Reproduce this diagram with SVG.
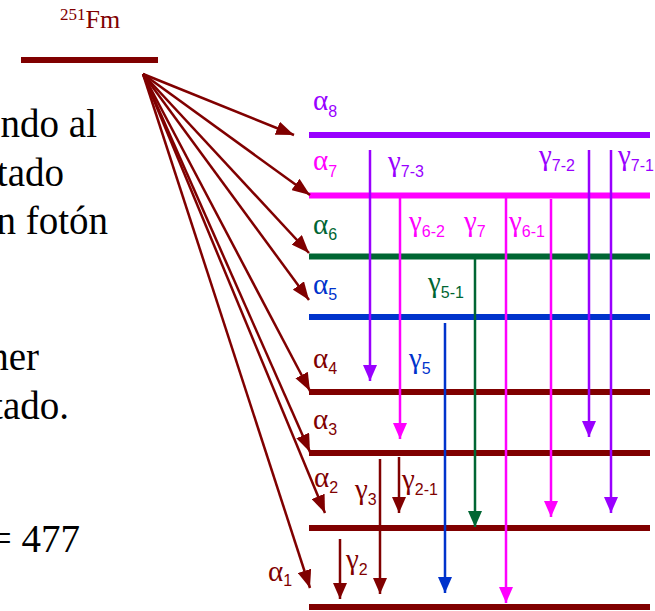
<svg xmlns="http://www.w3.org/2000/svg" width="655" height="611" viewBox="0 0 655 611">
<style>
.body{font-family:"Liberation Serif",serif;font-size:39px;fill:#000}
.lbl{font-family:"Liberation Serif",serif;font-size:29px}
.sub{font-family:"Liberation Sans",sans-serif;font-size:16px}
.lvl{stroke-width:6;fill:none}
.ar{stroke-width:2.5;fill:none}
.red{fill:#800000}.pur{fill:#9900FF}.mag{fill:#FF00FF}.grn{fill:#006633}.blu{fill:#0033CC}
</style>
<defs>
<marker id="mRed" markerUnits="userSpaceOnUse" markerWidth="18" markerHeight="14" refX="18" refY="7" orient="auto"><path d="M0,0 L18,7 L0,14 z" fill="#800000"/></marker>
<marker id="gRed" markerUnits="userSpaceOnUse" markerWidth="16" markerHeight="14" refX="16" refY="7" orient="auto"><path d="M0,0 L16,7 L0,14 z" fill="#800000"/></marker>
<marker id="gPur" markerUnits="userSpaceOnUse" markerWidth="16" markerHeight="14" refX="16" refY="7" orient="auto"><path d="M0,0 L16,7 L0,14 z" fill="#9900FF"/></marker>
<marker id="gMag" markerUnits="userSpaceOnUse" markerWidth="16" markerHeight="14" refX="16" refY="7" orient="auto"><path d="M0,0 L16,7 L0,14 z" fill="#FF00FF"/></marker>
<marker id="gGrn" markerUnits="userSpaceOnUse" markerWidth="16" markerHeight="14" refX="16" refY="7" orient="auto"><path d="M0,0 L16,7 L0,14 z" fill="#006633"/></marker>
<marker id="gBlu" markerUnits="userSpaceOnUse" markerWidth="16" markerHeight="14" refX="16" refY="7" orient="auto"><path d="M0,0 L16,7 L0,14 z" fill="#0033CC"/></marker>
</defs>

<g id="body-text">
<text class="body" x="97" y="137" text-anchor="end">ndo al</text>
<text class="body" x="64" y="186" text-anchor="end">tado</text>
<text class="body" x="108" y="234" text-anchor="end">n fotón</text>
<text class="body" x="39" y="370" text-anchor="end">ner</text>
<text class="body" x="69" y="419" text-anchor="end">tado.</text>
<text class="body" x="80" y="552" text-anchor="end">= 477</text>
</g>

<g id="parent">
<line x1="21" y1="60" x2="158" y2="60" stroke="#800000" class="lvl"/>
<text class="red" font-family="Liberation Serif, serif"><tspan x="60" y="20" font-size="17">251</tspan><tspan y="28" font-size="26">Fm</tspan></text>
</g>

<g id="levels">
<line id="L8" x1="309" y1="135" x2="650" y2="135" stroke="#9900FF" class="lvl"/>
<line id="L7" x1="309" y1="195.5" x2="650" y2="195.5" stroke="#FF00FF" class="lvl"/>
<line id="L6" x1="309" y1="256.5" x2="650" y2="256.5" stroke="#006633" class="lvl"/>
<line id="L5" x1="309" y1="317" x2="650" y2="317" stroke="#0033CC" class="lvl"/>
<line id="L4" x1="309" y1="392" x2="650" y2="392" stroke="#800000" class="lvl"/>
<line id="L3" x1="309" y1="453" x2="650" y2="453" stroke="#800000" class="lvl"/>
<line id="L2" x1="309" y1="528" x2="650" y2="528" stroke="#800000" class="lvl"/>
<line id="L1" x1="309" y1="607" x2="650" y2="607" stroke="#800000" class="lvl"/>
</g>

<g id="connectors">
<g stroke="#800000" class="ar" marker-end="url(#mRed)">
<line x1="143" y1="74" x2="294" y2="135"/>
<line x1="143" y1="74" x2="310" y2="195"/>
<line x1="143" y1="74" x2="309" y2="253"/>
<line x1="143" y1="74" x2="309" y2="300"/>
<line x1="143" y1="74" x2="310" y2="391"/>
<line x1="143" y1="74" x2="310" y2="452"/>
<line x1="143" y1="74" x2="325" y2="513"/>
<line x1="143" y1="74" x2="310" y2="588"/>
</g>
<g stroke="#9900FF" class="ar" marker-end="url(#gPur)">
<line x1="370" y1="150" x2="370" y2="381"/>
<line x1="589" y1="150" x2="589" y2="437"/>
<line x1="611" y1="150" x2="611" y2="513"/>
</g>
<g stroke="#FF00FF" class="ar" marker-end="url(#gMag)">
<line x1="400" y1="198" x2="400" y2="439"/>
<line x1="506" y1="198" x2="506" y2="603"/>
<line x1="551" y1="199" x2="551" y2="517"/>
</g>
<g stroke="#006633" class="ar" marker-end="url(#gGrn)">
<line x1="475" y1="259" x2="475" y2="527"/>
</g>
<g stroke="#0033CC" class="ar" marker-end="url(#gBlu)">
<line x1="445" y1="323" x2="445" y2="593"/>
</g>
<g stroke="#800000" class="ar" marker-end="url(#gRed)">
<line x1="380" y1="459" x2="380" y2="594"/>
<line x1="399" y1="457" x2="399" y2="513"/>
<line x1="340" y1="539" x2="340" y2="599"/>
</g>
</g>

<g id="alpha-labels">
<text class="lbl pur" x="313" y="110">α<tspan class="sub" dy="7">8</tspan></text>
<text class="lbl mag" x="313" y="170">α<tspan class="sub" dy="7">7</tspan></text>
<text class="lbl grn" x="313" y="234">α<tspan class="sub" dy="6">6</tspan></text>
<text class="lbl blu" x="313" y="294">α<tspan class="sub" dy="6">5</tspan></text>
<text class="lbl red" x="313" y="368">α<tspan class="sub" dy="6">4</tspan></text>
<text class="lbl red" x="313" y="429">α<tspan class="sub" dy="6">3</tspan></text>
<text class="lbl red" x="314" y="487">α<tspan class="sub" dy="6">2</tspan></text>
<text class="lbl red" x="268" y="581">α<tspan class="sub" dy="5">1</tspan></text>
</g>

<g id="gamma-labels">
<text class="lbl pur" x="388" y="171">γ<tspan class="sub" dy="6">7-3</tspan></text>
<text class="lbl pur" x="539" y="165">γ<tspan class="sub" dy="6">7-2</tspan></text>
<text class="lbl pur" x="618" y="165">γ<tspan class="sub" dy="6">7-1</tspan></text>
<text class="lbl mag" x="409" y="231">γ<tspan class="sub" dy="6">6-2</tspan></text>
<text class="lbl mag" x="464" y="231">γ<tspan class="sub" dy="6">7</tspan></text>
<text class="lbl mag" x="509" y="231">γ<tspan class="sub" dy="6">6-1</tspan></text>
<text class="lbl grn" x="428" y="292">γ<tspan class="sub" dy="6">5-1</tspan></text>
<text class="lbl blu" x="409" y="368">γ<tspan class="sub" dy="6">5</tspan></text>
<text class="lbl red" x="355" y="499">γ<tspan class="sub" dy="6">3</tspan></text>
<text class="lbl red" x="402" y="489">γ<tspan class="sub" dy="6">2-1</tspan></text>
<text class="lbl red" x="346" y="569">γ<tspan class="sub" dy="6">2</tspan></text>
</g>
</svg>
